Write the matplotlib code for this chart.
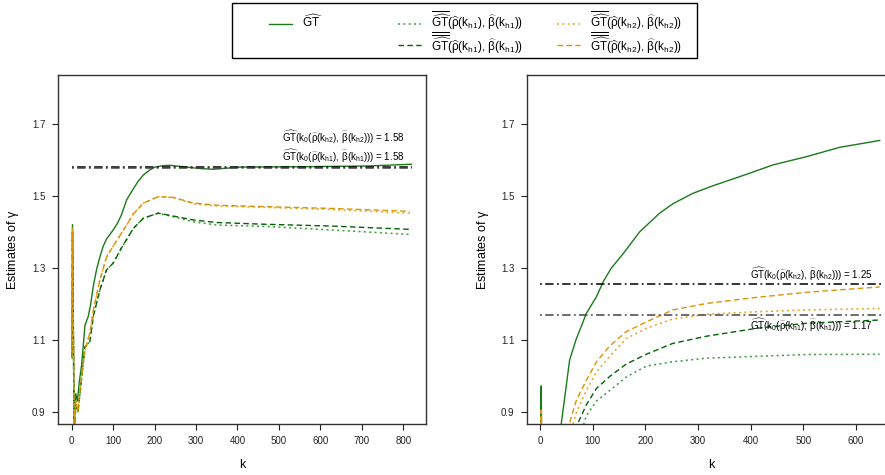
import matplotlib
matplotlib.use("Agg")
import matplotlib.pyplot as plt
from matplotlib.lines import Line2D
from matplotlib.patches import Rectangle

plt.rcParams['font.family'] = ['Liberation Sans', 'DejaVu Sans']
plt.rcParams['mathtext.fontset'] = 'custom'
plt.rcParams['mathtext.rm'] = 'Liberation Sans'
plt.rcParams['mathtext.it'] = 'Liberation Sans'
plt.rcParams['mathtext.bf'] = 'Liberation Sans:bold'

# ---- data ----
# left panel
k_left_gt = [1, 2, 6, 10, 14, 18, 24, 32, 40, 46, 52, 60, 68, 76, 84, 100, 110, 120,
             133, 149, 160, 173, 188, 201, 220, 237, 277, 310, 342, 406, 551, 712, 820]
gt_left = [1.05, 1.42, 0.86, 0.95, 0.93, 0.98, 1.03, 1.14, 1.165, 1.20, 1.248, 1.295,
           1.33, 1.36, 1.38, 1.405, 1.423, 1.447, 1.49, 1.52, 1.54, 1.558, 1.572, 1.58,
           1.584, 1.585, 1.58, 1.576, 1.574, 1.58, 1.581, 1.583, 1.588]
k_left = [1, 2, 6, 10, 15, 20, 32, 44, 52, 68, 84, 100, 120, 149, 173, 209, 245,
          294, 350, 470, 631, 816]
h1_single_left = [1.05, 1.40, 0.84, 0.92, 0.90, 0.95, 1.08, 1.095, 1.165, 1.238, 1.294,
                  1.313, 1.355, 1.41, 1.438, 1.452, 1.442, 1.428, 1.419, 1.415, 1.405, 1.393]
h1_double_left = [1.05, 1.40, 0.84, 0.92, 0.90, 0.95, 1.08, 1.095, 1.165, 1.238, 1.294,
                  1.313, 1.355, 1.41, 1.438, 1.452, 1.444, 1.433, 1.426, 1.421, 1.416, 1.407]
h2_single_left = [1.05, 1.41, 0.85, 0.93, 0.90, 0.96, 1.07, 1.12, 1.18, 1.266, 1.33,
                  1.36, 1.396, 1.45, 1.48, 1.498, 1.495, 1.478, 1.472, 1.468, 1.462, 1.452]
h2_double_left = [1.05, 1.41, 0.85, 0.93, 0.90, 0.96, 1.07, 1.12, 1.18, 1.266, 1.33,
                  1.36, 1.396, 1.45, 1.48, 1.498, 1.496, 1.48, 1.474, 1.47, 1.465, 1.457]
k0_h1_left, k0_h2_left = 1.577, 1.579
n_left = 822

# right panel
k_right_gt = [1, 2, 3, 40, 56, 68, 88, 107, 120, 135, 158, 189, 227, 252, 290, 328,
              398, 442, 506, 569, 645]
gt_right = [0.86, 0.972, 0.80, 0.866, 1.044, 1.10, 1.174, 1.22, 1.262, 1.299, 1.34,
            1.40, 1.452, 1.478, 1.507, 1.528, 1.563, 1.586, 1.609, 1.635, 1.654]
k_right = [1, 2, 3, 50, 69, 88, 107, 132, 164, 202, 252, 316, 411, 506, 645]
h1_single_right = [0.85, 0.88, 0.80, 0.70, 0.80, 0.89, 0.93, 0.959, 0.997, 1.027, 1.039,
                   1.049, 1.054, 1.059, 1.06]
h1_double_right = [0.85, 0.88, 0.80, 0.75, 0.86, 0.92, 0.965, 0.998, 1.033, 1.06, 1.09,
                   1.11, 1.132, 1.146, 1.155]
h2_single_right = [0.85, 0.905, 0.80, 0.80, 0.90, 0.96, 1.011, 1.054, 1.104, 1.132,
                   1.158, 1.171, 1.178, 1.183, 1.187]
h2_double_right = [0.85, 0.905, 0.80, 0.84, 0.933, 0.988, 1.039, 1.083, 1.123, 1.15,
                   1.183, 1.201, 1.218, 1.232, 1.247]
k0_h1_right, k0_h2_right = 1.17, 1.254
n_right = 648

xticks_left = [0, 100, 200, 300, 400, 500, 600, 700, 800]
xticks_right = [0, 100, 200, 300, 400, 500, 600]
yticks = [0.9, 1.1, 1.3, 1.5, 1.7]

# ---- styles ----
c_gt = '#1a7a1a'
c_g1 = '#3a9a3a'
c_g2 = '#006400'
c_o1 = '#e8a316'
c_o2 = '#d99405'
dot = (0, (1.3, 2.2))
dash = (0, (4, 2.4))
dotdash = (0, (1.2, 2.2, 5.5, 2.2))

gt_lab = r'$\widehat{\mathrm{GT}}$'
s_h1 = r'$\overline{\widehat{\mathrm{GT}}}(\widehat{\rho}(k_{h1}),\,\widehat{\beta}(k_{h1}))$'
d_h1 = r'$\overline{\overline{\widehat{\mathrm{GT}}}}(\widehat{\rho}(k_{h1}),\,\widehat{\beta}(k_{h1}))$'
s_h2 = r'$\overline{\widehat{\mathrm{GT}}}(\widehat{\rho}(k_{h2}),\,\widehat{\beta}(k_{h2}))$'
d_h2 = r'$\overline{\overline{\widehat{\mathrm{GT}}}}(\widehat{\rho}(k_{h2}),\,\widehat{\beta}(k_{h2}))$'


def k0_label(h, v):
    return (r'$\widehat{\mathrm{GT}}(k_0(\widehat{\rho}(k_{%s}),\,\widehat{\beta}(k_{%s})))$ = %.2f'
            % (h, h, v))


fig = plt.figure(figsize=(8.85, 4.75), dpi=100)
W, H = 885.0, 475.0
ax1 = fig.add_axes([58 / W, 1 - 424 / H, 368 / W, 349 / H])
ax2 = fig.add_axes([527 / W, 1 - 424 / H, 369 / W, 349 / H])


def panel(ax, kg, gt, k, s1, d1, s2, d2, n, v1, v2, xlim, xticks, txt_x, txt_y):
    ax.plot(kg, gt, color=c_gt, lw=1.0)
    ax.plot(k, s1, color=c_g1, lw=1.1, linestyle=dot)
    ax.plot(k, d1, color=c_g2, lw=1.0, linestyle=dash)
    ax.plot(k, s2, color=c_o1, lw=1.1, linestyle=dot)
    ax.plot(k, d2, color=c_o2, lw=1.0, linestyle=dash)
    ax.hlines(v2, 0, n, color='black', lw=1.1, linestyles=[dotdash])
    ax.hlines(v1, 0, n, color='#444444', lw=1.1, linestyles=[dotdash])
    ax.text(txt_x, txt_y[0], k0_label('h2', round(v2, 2)), ha='right', va='center', fontsize=7)
    ax.text(txt_x, txt_y[1], k0_label('h1', round(v1, 2)), ha='right', va='center', fontsize=7)
    ax.set_xlim(*xlim)
    ax.set_ylim(0.866, 1.836)
    ax.set_xticks(xticks)
    ax.set_yticks(yticks)
    ax.set_yticklabels([f'{t:.1f}' for t in yticks])
    ax.tick_params(labelsize=7, length=4, width=0.8, pad=5, colors='#222222')
    for s in ax.spines.values():
        s.set_linewidth(1.0)
        s.set_color('#333333')
    ax.set_xlabel('k', fontsize=9)
    ax.set_ylabel(r'Estimates of $\mathregular{\gamma}$', fontsize=9)
    ax.xaxis.set_label_coords(0.5, -0.10)


panel(ax1, k_left_gt, gt_left, k_left, h1_single_left, h1_double_left,
      h2_single_left, h2_double_left, n_left, k0_h1_left, k0_h2_left,
      (-33, 855), xticks_left, 804, (1.662, 1.611))
ax1.yaxis.set_label_coords(-0.10, 0.5)
panel(ax2, k_right_gt, gt_right, k_right, h1_single_right, h1_double_right,
      h2_single_right, h2_double_right, n_right, k0_h1_right, k0_h2_right,
      (-25, 676), xticks_right, 631, (1.282, 1.141))
ax2.yaxis.set_label_coords(-0.098, 0.5)

# ---- legend box across the top ----
fig.add_artist(Rectangle((232 / W, 1 - 58 / H), 465 / W, 55 / H, transform=fig.transFigure,
                         fill=False, edgecolor='black', lw=1.0))
entries = [
    (269, 24, 27, c_gt, '-', 1.0, gt_lab),
    (398, 24, 27, c_g1, dot, 1.1, s_h1),
    (398, 45, 51, c_g2, dash, 1.0, d_h1),
    (557, 24, 27, c_o1, dot, 1.1, s_h2),
    (557, 45, 51, c_o2, dash, 1.0, d_h2),
]
for x0, y0, yb, col, ls, lw, lab in entries:
    fig.add_artist(Line2D([x0 / W, (x0 + 23) / W], [1 - y0 / H, 1 - y0 / H],
                          transform=fig.transFigure, color=col, lw=lw, linestyle=ls))
    fig.text((x0 + 33) / W, 1 - yb / H, lab, ha='left', va='baseline', fontsize=8.5)

fig.savefig('out.png', dpi=100)
